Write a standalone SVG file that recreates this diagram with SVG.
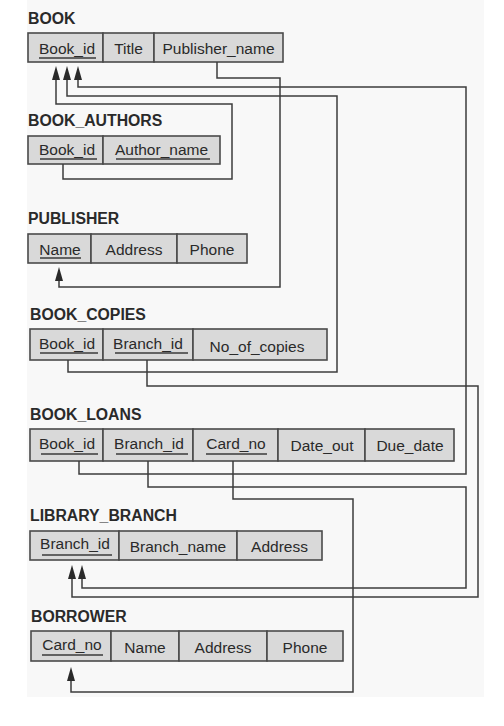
<svg xmlns="http://www.w3.org/2000/svg" width="504" height="726" viewBox="0 0 504 726">
<style>
.title{font-family:"Liberation Sans",Arial,sans-serif;font-size:15.8px;font-weight:bold;fill:#2a2a2a}
.lbl{font-family:"Liberation Sans",Arial,sans-serif;font-size:15.5px;fill:#2a2a2a;text-anchor:middle}
.cell{fill:#d9d9d9;stroke:#4a4a4a;stroke-width:1.6}
.ul{stroke:#3a3a3a;stroke-width:1.4}
.conn{fill:none;stroke:#3c3c3c;stroke-width:1.5}
</style>
<defs>
<marker id="ah" viewBox="0 0 14 8" refX="0" refY="4" markerWidth="14" markerHeight="8" markerUnits="userSpaceOnUse" orient="auto">
<path d="M0,0 L14,4 L0,8 z" fill="#2a2a2a"/>
</marker>
</defs>
<rect x="0" y="0" width="504" height="726" fill="#ffffff"/>
<rect x="27" y="0" width="457" height="697" fill="#f8f8f8"/>

<g id="BOOK">
<text class="title" x="28" y="24">BOOK</text>
<rect class="cell" x="28" y="33" width="75" height="29"/>
<rect class="cell" x="103" y="33" width="51" height="29"/>
<rect class="cell" x="154" y="33" width="129" height="29"/>
<text class="lbl" x="67" y="54">Book_id</text>
<line class="ul" x1="39" y1="58" x2="96" y2="58"/>
<text class="lbl" x="128.5" y="54">Title</text>
<text class="lbl" x="218.5" y="54">Publisher_name</text>
</g>

<g id="BOOK_AUTHORS">
<text class="title" x="28" y="126">BOOK_AUTHORS</text>
<rect class="cell" x="28" y="136" width="75" height="28"/>
<rect class="cell" x="103" y="136" width="117" height="28"/>
<text class="lbl" x="67" y="155">Book_id</text>
<line class="ul" x1="40" y1="159" x2="97" y2="159"/>
<text class="lbl" x="161.5" y="155">Author_name</text>
<line class="ul" x1="116" y1="159" x2="210" y2="159"/>
</g>

<g id="PUBLISHER">
<text class="title" x="28" y="224">PUBLISHER</text>
<rect class="cell" x="28" y="234" width="63" height="29"/>
<rect class="cell" x="91" y="234" width="86" height="29"/>
<rect class="cell" x="177" y="234" width="70" height="29"/>
<text class="lbl" x="60" y="255">Name</text>
<line class="ul" x1="40" y1="258" x2="81" y2="258"/>
<text class="lbl" x="134" y="255">Address</text>
<text class="lbl" x="212" y="255">Phone</text>
</g>

<g id="BOOK_COPIES">
<text class="title" x="30" y="320">BOOK_COPIES</text>
<rect class="cell" x="30" y="329" width="73" height="31"/>
<rect class="cell" x="103" y="329" width="90" height="31"/>
<rect class="cell" x="193" y="329" width="134" height="31"/>
<text class="lbl" x="67" y="349">Book_id</text>
<line class="ul" x1="40" y1="353" x2="98" y2="353"/>
<text class="lbl" x="148" y="349">Branch_id</text>
<line class="ul" x1="115" y1="353" x2="188" y2="353"/>
<text class="lbl" x="257" y="352">No_of_copies</text>
</g>

<g id="BOOK_LOANS">
<text class="title" x="30" y="420">BOOK_LOANS</text>
<rect class="cell" x="30" y="429" width="73" height="32"/>
<rect class="cell" x="103" y="429" width="90" height="32"/>
<rect class="cell" x="193" y="429" width="85" height="32"/>
<rect class="cell" x="278" y="429" width="87" height="32"/>
<rect class="cell" x="365" y="429" width="89" height="32"/>
<text class="lbl" x="67" y="449">Book_id</text>
<line class="ul" x1="41" y1="454" x2="98" y2="454"/>
<text class="lbl" x="149" y="449">Branch_id</text>
<line class="ul" x1="116" y1="454" x2="188" y2="454"/>
<text class="lbl" x="236" y="449">Card_no</text>
<line class="ul" x1="206" y1="454" x2="267" y2="454"/>
<text class="lbl" x="322" y="451">Date_out</text>
<text class="lbl" x="410" y="451">Due_date</text>
</g>

<g id="LIBRARY_BRANCH">
<text class="title" x="30" y="521">LIBRARY_BRANCH</text>
<rect class="cell" x="30" y="531" width="89" height="29"/>
<rect class="cell" x="119" y="531" width="118" height="29"/>
<rect class="cell" x="237" y="531" width="85" height="29"/>
<text class="lbl" x="75" y="549">Branch_id</text>
<line class="ul" x1="42" y1="555" x2="112" y2="555"/>
<text class="lbl" x="178" y="552">Branch_name</text>
<text class="lbl" x="279.5" y="552">Address</text>
</g>

<g id="BORROWER">
<text class="title" x="31" y="622">BORROWER</text>
<rect class="cell" x="31" y="631" width="80" height="30"/>
<rect class="cell" x="111" y="631" width="68" height="30"/>
<rect class="cell" x="179" y="631" width="88" height="30"/>
<rect class="cell" x="267" y="631" width="76" height="30"/>
<text class="lbl" x="72" y="650">Card_no</text>
<line class="ul" x1="42" y1="655" x2="103" y2="655"/>
<text class="lbl" x="145" y="653">Name</text>
<text class="lbl" x="223" y="653">Address</text>
<text class="lbl" x="305" y="653">Phone</text>
</g>

<g id="connectors">
<path class="conn" d="M63,164 V179 H232 V104 H56 V80" marker-end="url(#ah)"/>
<path class="conn" d="M68,360 V372 H337 V96 H67 V80" marker-end="url(#ah)"/>
<path class="conn" d="M79,461 V474 H466 V87 H78 V80" marker-end="url(#ah)"/>
<path class="conn" d="M217,62 V78 H280 V287 H59 V281" marker-end="url(#ah)"/>
<path class="conn" d="M147,360 V386 H478 V597 H72 V579" marker-end="url(#ah)"/>
<path class="conn" d="M148,461 V487 H466 V588 H82 V579" marker-end="url(#ah)"/>
<path class="conn" d="M233,461 V499 H353 V692 H71 V681" marker-end="url(#ah)"/>
</g>
</svg>
